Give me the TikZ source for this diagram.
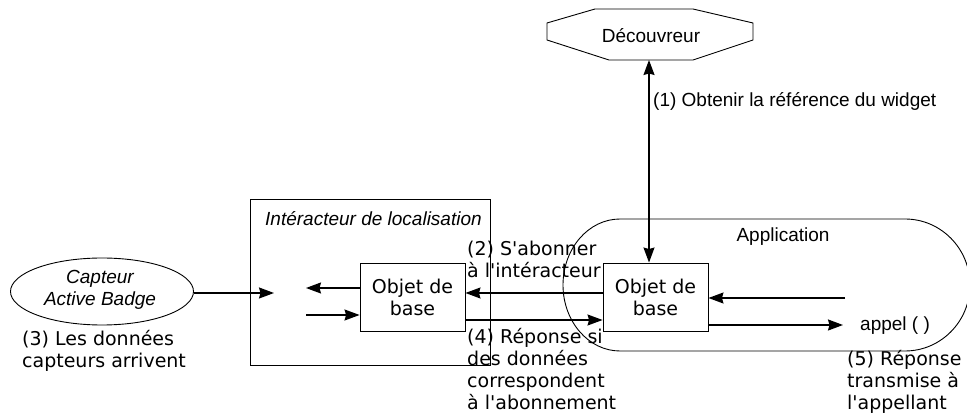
\documentclass[tikz,border=0pt]{standalone}
\usepackage{fontspec}
\setmainfont{DejaVu Sans}
\newfontfamily\arial{Liberation Sans}
\usetikzlibrary{arrows.meta,shapes.geometric}
\newcommand{\leftlines}[1]{\vtop{\baselineskip=22pt\halign{##\hfil\cr#1\cr}}}
\newcommand{\midlines}[1]{\vtop{\baselineskip=22pt\halign{\hfil##\hfil\cr#1\cr}}}
\newcommand{\q}{\textquotesingle}
\begin{document}
\begin{tikzpicture}[x=1pt,y=-1pt,
  txt/.style={font=\fontsize{19}{22}\selectfont, inner sep=0pt},
  atxt/.style={font=\fontsize{19}{22}\selectfont\arial, inner sep=0pt},
  objbox/.style={draw, line width=0.9pt, minimum width=105pt, minimum height=68pt, inner sep=0pt, align=center, font=\fontsize{19}{22}\selectfont},
  thin/.style={line width=0.9pt},
  arr/.style={line width=1.4pt, -{Stealth[length=15pt,width=11pt,inset=1.5pt]}},
  darr/.style={line width=1.4pt, {Stealth[length=15pt,width=11pt,inset=1.5pt]}-{Stealth[length=15pt,width=11pt,inset=1.5pt]}}]
\useasboundingbox (0,0) rectangle (967,419);

% Decouvreur octagon
\draw[thin] (547,23) -- (595,9) -- (693,9) -- (753,23) -- (753,40) -- (693,60) -- (609,60) -- (547,40) -- cycle;
\node[atxt, anchor=base] (dec) at (651,43) {Découvreur};
\coordinate (decb) at (649,60);

% Interacteur rectangle
\draw[thin] (250,199) rectangle (490,365);
\node[atxt, anchor=base west, font=\fontsize{19}{22}\selectfont\arial\itshape] (inter) at (265,226) {Intéracteur de localisation};

% Application stadium
\draw[thin] (620,219) -- (905,219) arc[start angle=-90,end angle=90,x radius=65,y radius=66]
  -- (620,351) arc[start angle=90,end angle=270,x radius=57,y radius=66];
\node[atxt, anchor=base] (app) at (783,242) {Application};

% Capteur ellipse
\node[ellipse, draw, thin, minimum width=183pt, minimum height=67pt, inner sep=0pt] (capt) at (102,291.5) {};
\node[atxt, anchor=base, font=\fontsize{19}{22}\selectfont\arial\itshape] (capttxt) at (100,284)
  {\midlines{Capteur\cr Active Badge}};

% Objet de base boxes
\node[objbox] (objL) at (412.5,297) {Objet de\\base};
\node[objbox] (objR) at (655.5,297) {Objet de\\base};

% free ends
\coordinate (inA) at (274,293);
\coordinate (outL) at (306,288);
\coordinate (inL) at (306,315);
\coordinate (callIn) at (845,298);
\coordinate (callOut) at (843,325);

% connectors
\draw[darr] (decb) -- (objR.north -| decb);
\draw[arr] (capt.east |- inA) -- (inA);
\draw[arr] (objL.west |- outL) -- (outL);
\draw[arr] (inL) -- (objL.west |- inL);
\draw[arr] (objR.west |- 0,293) -- (objL.east |- 0,293);
\draw[arr] (objL.east |- 0,320) -- (objR.west |- 0,320);
\draw[arr] (callIn) -- (objR.east |- callIn);
\draw[arr] (objR.east |- callOut) -- (callOut);

% labels
\node[atxt, anchor=base west] (l1) at (653,107) {(1) Obtenir la référence du widget};
\node[atxt, anchor=base west] (appel) at (860,331) {appel ( )};
\node[txt, anchor=base west] (l2) at (467,256) {\leftlines{(2) S\q abonner\cr à l\q intéracteur}};
\node[txt, anchor=base west] (l3) at (22,346) {\leftlines{(3) Les données\cr capteurs arrivent}};
\node[txt, anchor=base west] (l4) at (467,344) {\leftlines{(4) Réponse si\cr des données\cr correspondent\cr à l\q abonnement}};
\node[txt, anchor=base west] (l5) at (847,366) {\leftlines{(5) Réponse\cr transmise à\cr l\q appellant}};
\end{tikzpicture}
\end{document}
